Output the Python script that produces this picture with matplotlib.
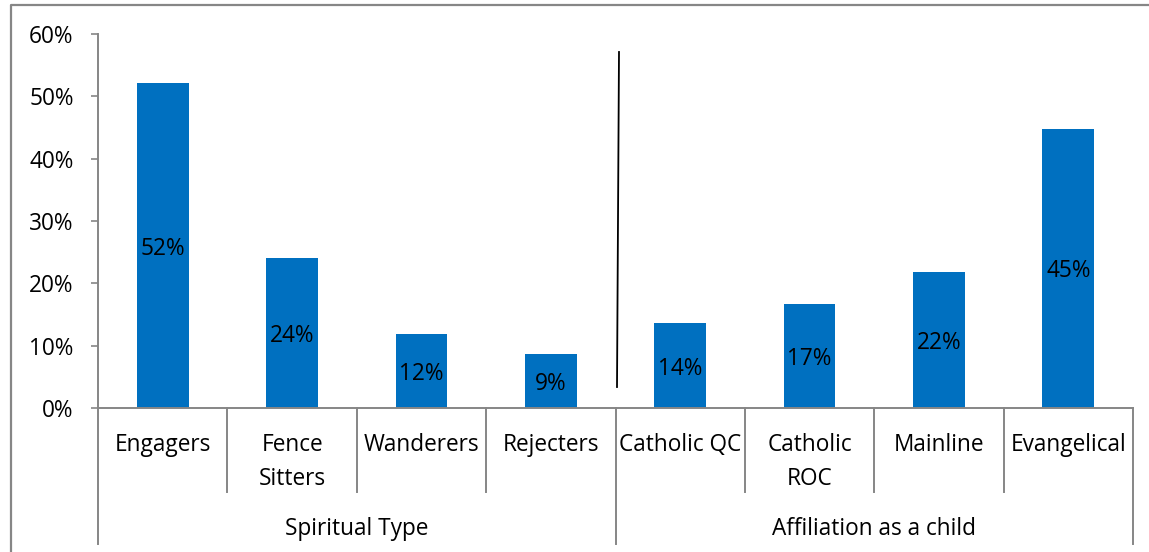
import matplotlib
matplotlib.use("Agg")
import matplotlib.pyplot as plt
from matplotlib.lines import Line2D
from matplotlib.transforms import blended_transform_factory
import numpy as np

# Share of respondents per category
categories = ["Engagers", "Fence\nSitters", "Wanderers", "Rejecters",
              "Catholic QC", "Catholic\nROC", "Mainline", "Evangelical"]
shares = [0.521, 0.241, 0.119, 0.086, 0.136, 0.167, 0.218, 0.448]
groups = ["Spiritual Type", "Affiliation as a child"]
group_sizes = [4, 4]
y_ticks = [0.0, 0.1, 0.2, 0.3, 0.4, 0.5, 0.6]

W, H = 1149, 552
BAR = "#0070C0"
AXIS = "#868686"
FS = 16.3

plt.rcParams["font.family"] = ["Open Sans", "DejaVu Sans"]
fig = plt.figure(figsize=(W / 100, H / 100), dpi=100)


def fx(px):
    return px / W


def fy(py):
    return 1 - py / H


ax = fig.add_axes([fx(98), fy(408), fx(1133) - fx(98), fy(34) - fy(408)])
x = np.arange(len(categories))
ax.bar(x, shares, width=0.4, color=BAR, zorder=2)
ax.set_xlim(-0.5, len(categories) - 0.5)
ax.set_ylim(0, 0.6)
ax.set_yticks(y_ticks)
ax.set_yticklabels([f"{t:.0%}" for t in y_ticks])
ax.tick_params(axis="y", length=5, width=1.2, color=AXIS, pad=12.5,
               labelsize=FS, labelcolor="black")
ax.set_xticks([])
for side in ["top", "right"]:
    ax.spines[side].set_visible(False)
for side in ["left", "bottom"]:
    ax.spines[side].set_color(AXIS)
    ax.spines[side].set_linewidth(1.4)

# Value labels centred inside each bar
for xi, v in zip(x, shares):
    ax.text(xi, v / 2, f"{v:.0%}", ha="center", va="center_baseline",
            fontsize=FS, color="black", zorder=3)

# Two-level category axis: dividers and labels
tr = blended_transform_factory(ax.transData, fig.transFigure)
group_edges = set(np.cumsum([0] + group_sizes))
for i in range(len(categories) + 1):
    bottom = 544 if i in group_edges else 492
    ax.add_line(Line2D([i - 0.5, i - 0.5], [fy(408), fy(bottom)],
                       transform=tr, color=AXIS, lw=1.4, clip_on=False))

for xi, label in zip(x, categories):
    for k, line in enumerate(label.split("\n")):
        ax.text(xi, fy(451 + 34 * k), line, transform=tr, ha="center",
                va="baseline", fontsize=FS, color="black")

start = 0
for name, size in zip(groups, group_sizes):
    centre = start + (size - 1) / 2
    ax.text(centre, fy(535), name, transform=tr, ha="center",
            va="baseline", fontsize=FS, color="black")
    start += size

# Separator between the two groups
fig.add_artist(Line2D([fx(619), fx(617)], [fy(52), fy(387)],
                      color="black", lw=1.3))

# Chart-area frame
fig.add_artist(Line2D([fx(11), fx(11), 1.0], [0.0, fy(5), fy(5)],
                      color=AXIS, lw=1.6))

fig.savefig("out.png", dpi=100)
